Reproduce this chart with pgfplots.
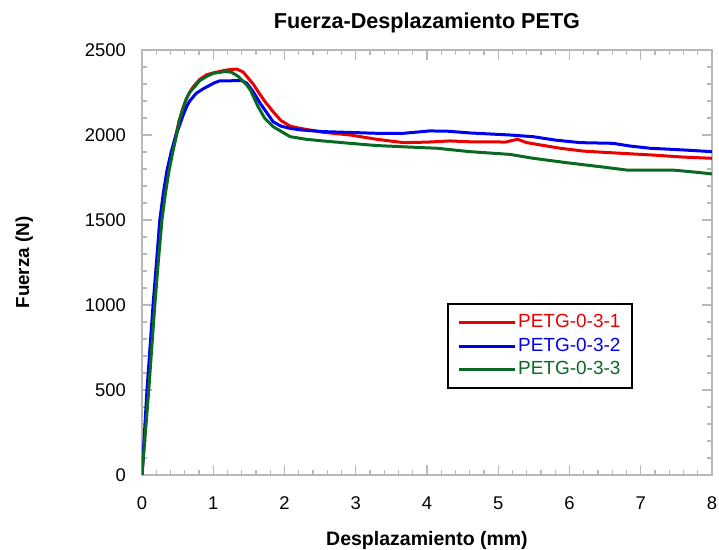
\documentclass[border=0pt]{standalone}
\usepackage{pgfplots}
\pgfplotsset{compat=1.18}
\usepackage{fontspec}
\setmainfont{Liberation Sans}

\definecolor{cred}{RGB}{235,0,0}
\definecolor{cblue}{RGB}{0,0,240}
\definecolor{cgreen}{RGB}{10,105,35}

\begin{document}
\begin{tikzpicture}
\begin{axis}[
  at={(0,0)}, anchor=south west,
  scale only axis, width=285pt, height=212.5pt,
  xmin=0, xmax=8, ymin=0, ymax=2500,
  xtick={0,1,...,8}, ytick={0,500,...,2500},
  minor x tick num=4, minor y tick num=4,
  tick align=inside,
  major tick length=5pt, minor tick length=2.5pt,
  axis line style={black!28, line width=1pt},
  every tick/.style={black!28, line width=0.7pt},
  /pgf/number format/assume math mode=true,
  /pgf/number format/1000 sep={},
  tick label style={font=\fontsize{9.2}{11}\selectfont, black},
  xticklabel style={yshift=-7.5pt},
  yticklabel style={xshift=-4.5pt},
  title={\bfseries Fuerza-Desplazamiento PETG},
  title style={at={(axis description cs:0.5,1.0235)}, anchor=base, font=\fontsize{10.8}{13}\selectfont},
  xlabel={\bfseries Desplazamiento (mm)},
  xlabel style={at={(axis description cs:0.5,-0.165)}, anchor=base, font=\fontsize{9.75}{12}\selectfont},
  ylabel={\bfseries Fuerza (N)},
  ylabel style={at={(axis description cs:-0.1982,0.5)}, anchor=base, font=\fontsize{9.4}{12}\selectfont},
  legend image code/.code={\draw[#1] (0pt,0pt) -- (27.9pt,0pt);},
  legend cell align=left,
  legend style={at={(axis description cs:0.5356,0.4054)}, anchor=north west,
    draw=black, line width=1pt, font=\fontsize{9.5}{11}\selectfont,
    inner xsep=4.5pt, inner ysep=4.5pt, row sep=1.5pt,
    nodes={inner sep=1pt, text depth=0.15em}},
]
% PETG-0-3-1
\addplot[cred, line width=1.5pt] coordinates {
(0,0) (0.085,500) (0.17,1000) (0.22,1260) (0.27,1500) (0.32,1660) (0.37,1790)
(0.42,1900) (0.47,1990) (0.52,2080) (0.57,2150) (0.62,2210) (0.67,2252)
(0.72,2284) (0.81,2327) (0.91,2355) (1.0,2365) (1.1,2375) (1.2,2383)
(1.33,2388) (1.42,2370) (1.5,2330) (1.56,2300) (1.63,2255) (1.72,2200)
(1.84,2137) (1.95,2085) (2.08,2052) (2.22,2039) (2.54,2016) (2.92,2000)
(3.29,1975) (3.67,1955) (4.0,1958) (4.32,1965) (4.6,1960) (4.93,1960)
(5.1,1958) (5.27,1975) (5.4,1955) (5.87,1922) (6.2,1905) (6.57,1896)
(7.17,1882) (7.6,1870) (8.0,1863)
};
% PETG-0-3-2
\addplot[cblue, line width=1.5pt] coordinates {
(0,0) (0.07,500) (0.155,1000) (0.205,1260) (0.25,1500) (0.30,1660) (0.35,1790)
(0.41,1900) (0.47,1990) (0.53,2060) (0.58,2120) (0.63,2170) (0.67,2200)
(0.76,2245) (0.86,2272) (0.95,2292) (1.02,2308) (1.09,2318) (1.4,2320)
(1.47,2305) (1.56,2255) (1.66,2186) (1.84,2078) (1.95,2052) (2.08,2039)
(2.22,2030) (2.54,2020) (3.29,2010) (3.67,2010) (4.04,2024) (4.3,2022)
(4.6,2012) (5.16,2000) (5.49,1990) (5.8,1970) (6.15,1955) (6.61,1951)
(6.85,1935) (7.13,1922) (7.6,1912) (8.0,1902)
};
% PETG-0-3-3
\addplot[cgreen, line width=1.5pt] coordinates {
(0,0) (0.095,500) (0.18,1000) (0.23,1260) (0.28,1500) (0.33,1660) (0.38,1790)
(0.43,1895) (0.48,1990) (0.52,2080) (0.57,2150) (0.62,2210) (0.67,2252)
(0.74,2284) (0.81,2320) (0.91,2345) (1.0,2363) (1.16,2373) (1.25,2370)
(1.35,2345) (1.47,2294) (1.52,2265) (1.63,2166) (1.72,2100) (1.84,2049)
(2.08,1990) (2.3,1975) (2.54,1965) (2.92,1951) (3.29,1938) (3.7,1930)
(4.14,1922) (4.6,1902) (5.16,1886) (5.49,1863) (5.96,1837) (6.4,1815)
(6.8,1794) (7.45,1794) (7.8,1780) (8.0,1771)
};
\legend{\textcolor{cred}{PETG-0-3-1},\textcolor{cblue}{PETG-0-3-2},\textcolor{cgreen}{PETG-0-3-3}}
\end{axis}
\pgfresetboundingbox
\path[use as bounding box] (-71pt,-37.5pt) rectangle (288.5pt,237.5pt);
\end{tikzpicture}
\end{document}
